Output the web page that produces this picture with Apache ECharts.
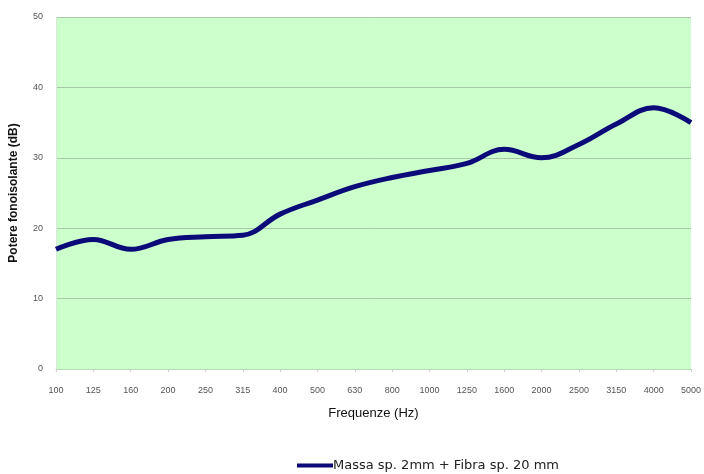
<!DOCTYPE html>
<html lang="it">
<head>
<meta charset="UTF-8">
<title>Potere fonoisolante</title>
<script src="https://cdn.jsdelivr.net/npm/echarts@6/dist/echarts.min.js"></script>
<style>
  html, body { margin: 0; padding: 0; background: #fff; }
  #main { width: 704px; height: 474px; }
</style>
</head>
<body>
<div id="main"></div>
<script type="text/javascript">
    // frequenze in Hz (bande di terzo d'ottava)
    var freqs = ['100', '125', '160', '200', '250', '315', '400', '500', '630',
        '800', '1000', '1250', '1600', '2000', '2500', '3150', '4000', '5000'];
    // potere fonoisolante in dB
    var rValues = [17.0, 18.4, 17.0, 18.4, 18.8, 19.0, 22.0, 24.0, 25.9,
        27.2, 28.2, 29.2, 31.2, 30.0, 31.9, 34.8, 37.1, 35.0];
    var seriesName = 'Massa sp. 2mm + Fibra sp. 20 mm';

    var myChart = echarts.init(document.getElementById('main'));

    var option = {
        animation: false,
        backgroundColor: '#ffffff',
        grid: {
            show: true,
            left: 53,
            right: 9,
            top: 17,
            bottom: 105,
            backgroundColor: '#ccffcc',
            borderWidth: 0
        },
        legend: {
            data: [seriesName],
            left: 292,
            top: 454,
            itemWidth: 36,
            itemHeight: 4,
            itemGap: 0,
            icon: 'rect',
            textStyle: {
                color: '#222',
                fontSize: 13,
                padding: [0, 0, 0, -5],
                fontFamily: 'DejaVu Sans'
            }
        },
        xAxis: {
            type: 'category',
            data: freqs,
            boundaryGap: false,
            name: 'Frequenze (Hz)',
            nameLocation: 'middle',
            nameGap: 38,
            nameTextStyle: {
                color: '#111',
                fontSize: 13,
                fontFamily: 'Liberation Sans'
            },
            axisLine: { lineStyle: { color: '#b8d8b8' } },
            axisTick: { show: true, alignWithLabel: true, length: 3, lineStyle: { color: '#d0d0d0' } },
            axisLabel: {
                interval: 0,
                color: '#555',
                fontSize: 9,
                fontFamily: 'Liberation Sans Narrow, Liberation Sans',
                margin: 17
            },
            splitLine: { show: false }
        },
        yAxis: {
            type: 'value',
            min: 0,
            max: 50,
            interval: 10,
            name: 'Potere fonoisolante (dB)',
            nameLocation: 'middle',
            nameGap: 36,
            nameTextStyle: {
                color: '#111',
                fontSize: 12,
                fontWeight: 'bold',
                fontFamily: 'Liberation Sans'
            },
            axisLine: { show: true, lineStyle: { color: '#d8e8d8' } },
            axisTick: { show: false },
            axisLabel: {
                color: '#555',
                fontSize: 9,
                fontFamily: 'Liberation Sans Narrow, Liberation Sans',
                margin: 13
            },
            splitLine: { show: true, lineStyle: { color: '#a8c8a8', width: 1 } }
        },
        series: [{
            name: seriesName,
            type: 'line',
            smooth: 0.4,
            showSymbol: false,
            symbol: 'none',
            data: rValues,
            lineStyle: {
                color: '#0a0a78',
                width: 5
            },
            itemStyle: { color: '#0a0a78' }
        }]
    };

    myChart.setOption(option);
</script>
</body>
</html>
